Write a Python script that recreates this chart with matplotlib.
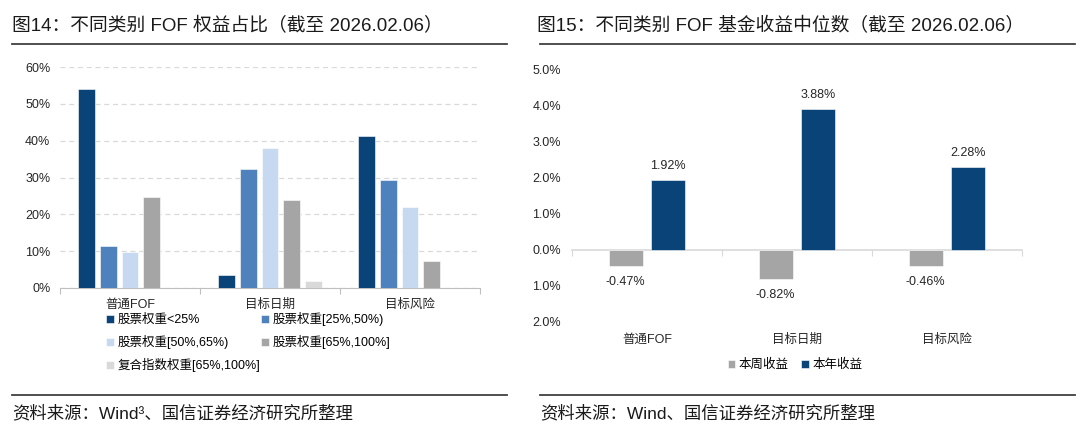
import matplotlib
matplotlib.use("Agg")
import matplotlib.pyplot as plt
from matplotlib.lines import Line2D
import numpy as np

plt.rcParams['font.family'] = ['Liberation Sans', 'Noto Sans CJK SC', 'DejaVu Sans']

# ---- data: left chart (equity share) ----
fof_types = ["普通FOF", "目标日期", "目标风险"]
weight_groups = ["股票权重<25%", "股票权重[25%,50%)", "股票权重[50%,65%)",
                 "股票权重[65%,100%]", "复合指数权重[65%,100%]"]
share_lt25 = [54.0, 3.6, 41.3]
share_25_50 = [11.3, 32.4, 29.3]
share_50_65 = [9.8, 38.0, 21.9]
share_65_100 = [24.7, 24.0, 7.3]
share_index = [0.0, 1.8, 0.0]

# ---- data: right chart (median returns) ----
ret_labels = ["本周收益", "本年收益"]
ret_week = [-0.47, -0.82, -0.46]
ret_year = [1.92, 3.88, 2.28]

navy = "#0A4378"
mid_blue = "#4F81BD"
light_blue = "#C6D9F1"
gray = "#A5A5A5"
light_gray = "#D9D9D9"
share_colors = [navy, mid_blue, light_blue, gray, light_gray]

W, H = 1080, 443
fig = plt.figure(figsize=(W / 100, H / 100), dpi=100)


def fx(px):
    return px / W


def fy(py):
    return 1 - py / H


# ---------------- left chart ----------------
ax1 = fig.add_axes([fx(60), fy(288), fx(420), 221 / H])
x = np.arange(len(fof_types))
series = [share_lt25, share_25_50, share_50_65, share_65_100, share_index]
pitch = 0.154
handles = []
for i, (vals, c) in enumerate(zip(series, share_colors)):
    off = (i - 2) * pitch
    b = ax1.bar(x + off, np.array(vals) / 100, width=0.121, color=c,
                edgecolor="white", linewidth=0.4, zorder=3)
    handles.append(b)

ax1.set_xlim(-0.5, 2.5)
ax1.set_ylim(0, 0.6)
ax1.set_yticks(np.arange(0, 0.61, 0.1))
ax1.set_yticklabels([f"{int(round(v * 100))}%" for v in np.arange(0, 0.61, 0.1)])
ax1.yaxis.grid(True, linestyle=(0, (4, 3)), color="#D9D9D9", linewidth=0.9, zorder=0)
for s in ["top", "right", "left"]:
    ax1.spines[s].set_visible(False)
ax1.spines["bottom"].set_color("#BFBFBF")
ax1.tick_params(axis="y", length=0, pad=7, labelsize=9, colors="#262626")
ax1.set_xticks([-0.5, 0.5, 1.5, 2.5])
ax1.set_xticklabels([])
ax1.tick_params(axis="x", which="major", length=4, color="#BFBFBF")
ax1.set_xticks(x, minor=True)
ax1.set_xticklabels(fof_types, minor=True, fontsize=9, color="#262626")
ax1.tick_params(axis="x", which="minor", length=0, pad=8)

order = [0, 2, 4, 1, 3]
ax1.legend([handles[i] for i in order], [weight_groups[i] for i in order],
           ncol=2, loc="upper left", bbox_to_anchor=(fx(106), fy(312)),
           bbox_transform=fig.transFigure, frameon=False, fontsize=9,
           handlelength=0.6, handleheight=0.6, handletextpad=0.3,
           columnspacing=0.1, labelspacing=0.72, borderpad=0,
           borderaxespad=0)

# ---------------- right chart ----------------
ax2 = fig.add_axes([fx(572), fy(321.7), fx(450), 252.7 / H])
b1 = ax2.bar(x - 0.142, ret_week, width=0.225, color=gray,
             edgecolor="white", linewidth=0.4, zorder=3)
b2 = ax2.bar(x + 0.142, ret_year, width=0.225, color=navy,
             edgecolor="white", linewidth=0.4, zorder=3)
ax2.set_xlim(-0.5, 2.5)
ax2.set_ylim(-2, 5)
yt = np.arange(-2, 5.01, 1)
ax2.set_yticks(yt)
ax2.set_yticklabels([f"{abs(v):.1f}%" for v in yt])
for s in ["top", "right", "left"]:
    ax2.spines[s].set_visible(False)
ax2.spines["bottom"].set_position(("data", 0))
ax2.spines["bottom"].set_color("#D9D9D9")
ax2.spines["bottom"].set_linewidth(1.2)
ax2.tick_params(axis="y", length=0, pad=8, labelsize=9, colors="#262626")
ax2.set_xticks([-0.5, 0.5, 1.5, 2.5])
ax2.set_xticklabels([])
ax2.tick_params(axis="x", length=4, color="#D9D9D9")
for xi, name in zip(x, fof_types):
    ax2.text(xi, -2.5, name, ha="center", va="center", fontsize=9,
             color="#262626", transform=ax2.transData, clip_on=False)
for xi, v in zip(x - 0.142, ret_week):
    ax2.annotate(f"{v:.2f}%", (xi, v), xytext=(0, -7), textcoords="offset points",
                 ha="center", va="top", fontsize=9, color="#262626")
for xi, v in zip(x + 0.142, ret_year):
    ax2.annotate(f"{v:.2f}%", (xi, v), xytext=(0, 6), textcoords="offset points",
                 ha="center", va="bottom", fontsize=9, color="#262626")
fig.legend([b1, b2], ret_labels, ncol=2, loc="center",
           bbox_to_anchor=(fx(795), fy(365)), frameon=False, fontsize=9,
           handlelength=0.6, handleheight=0.6, handletextpad=0.3,
           columnspacing=1.0, borderpad=0)

# ---------------- titles, rules, sources ----------------
fig.text(fx(12), fy(26), "图14：不同类别 FOF 权益占比（截至 2026.02.06）",
         fontsize=13.5, va="center", ha="left", color="#1a1a1a")
fig.text(fx(537), fy(26), "图15：不同类别 FOF 基金收益中位数（截至 2026.02.06）",
         fontsize=13.5, va="center", ha="left", color="#1a1a1a")
for x0, x1 in [(12, 507), (540, 1075)]:
    for yy in (44, 395):
        fig.add_artist(Line2D([fx(x0), fx(x1)], [fy(yy), fy(yy)],
                              color="#404040", linewidth=1.3))
fig.text(fx(12), fy(413), "资料来源：Wind³、国信证券经济研究所整理",
         fontsize=12.5, va="center", ha="left", color="#1a1a1a")
fig.text(fx(540), fy(413), "资料来源：Wind、国信证券经济研究所整理",
         fontsize=12.5, va="center", ha="left", color="#1a1a1a")

fig.savefig("out.png", dpi=100)
